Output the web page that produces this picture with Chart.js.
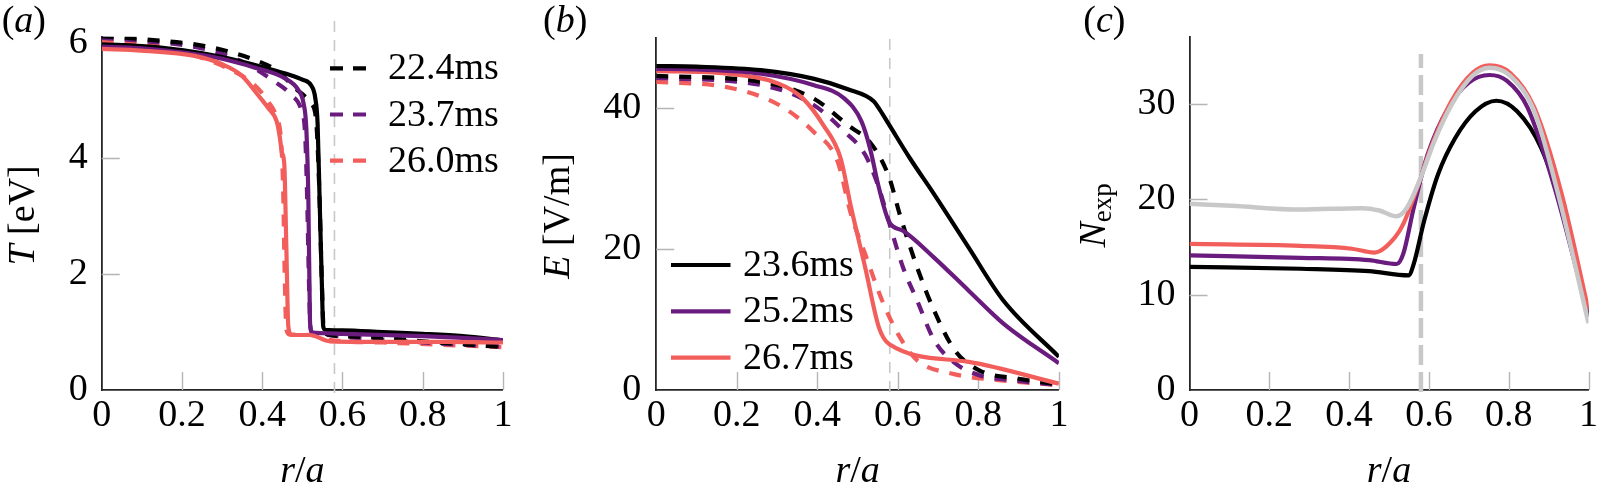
<!DOCTYPE html>
<html>
<head>
<meta charset="utf-8">
<script src="https://cdn.jsdelivr.net/npm/chart.js@4.4.1/dist/chart.umd.min.js"></script>
<style>
  html, body { margin: 0; padding: 0; background: #fff; }
  #wrap { position: relative; width: 1601px; height: 492px; overflow: hidden; }
  #wrap canvas { position: absolute; left: 0; top: 0; }
  #warm { position: absolute; left: 0; top: 600px; font-family: 'Liberation Serif'; font-size: 38px; }
</style>
</head>
<body>
<div id="wrap">
  <canvas id="chart-a" width="1601" height="492"></canvas>
  <canvas id="chart-b" width="1601" height="492"></canvas>
  <canvas id="chart-c" width="1601" height="492"></canvas>
</div>
<div id="warm">0.2 22.4ms [eV] <i>r/a T E N</i></div>
<script>
// ---- data (r/a on x) ----
const xTicks = [0, 0.2, 0.4, 0.6, 0.8, 1];
const rSep = 0.58;   // grey dashed separatrix line

// (a) temperature T [eV]
const aBlackR  = [0, 0.1, 0.2, 0.3, 0.4, 0.46, 0.5, 0.522, 0.532, 0.538, 0.543, 0.548, 0.552, 0.557, 0.6, 0.7, 0.8, 0.9, 1.0];
const aBlackT  = [5.97, 5.94, 5.87, 5.75, 5.58, 5.46, 5.36, 5.26, 5.05, 4.6, 3.3, 2.0, 1.1, 1.04, 1.03, 1.0, 0.97, 0.93, 0.86];
const aPurpR   = [0, 0.1, 0.2, 0.3, 0.38, 0.457, 0.49, 0.503, 0.51, 0.515, 0.519, 0.522, 0.527, 0.56, 0.6, 0.7, 0.8, 0.9, 1.0];
const aPurpT   = [5.93, 5.9, 5.83, 5.72, 5.57, 5.38, 5.18, 4.95, 4.5, 3.3, 1.2, 1.02, 0.99, 0.98, 0.97, 0.95, 0.93, 0.9, 0.86];
const aRedR    = [0, 0.1, 0.232, 0.299, 0.349, 0.39, 0.415, 0.436, 0.444, 0.449, 0.455, 0.46, 0.465, 0.473, 0.519, 0.569, 0.7, 0.85, 1.0];
const aRedT    = [5.89, 5.86, 5.77, 5.63, 5.43, 5.09, 4.87, 4.64, 4.36, 4.1, 3.9, 2.5, 1.1, 0.95, 0.95, 0.84, 0.83, 0.83, 0.82];
const aBlackDR = [0, 0.1, 0.257, 0.374, 0.44, 0.482, 0.51, 0.523, 0.535, 0.542, 0.548, 0.553, 0.558, 0.6, 0.726, 0.8, 0.9, 1.0];
const aBlackDT = [6.11, 6.06, 5.94, 5.72, 5.5, 5.21, 5.05, 4.95, 4.6, 3.5, 2.0, 1.05, 0.97, 0.93, 0.89, 0.84, 0.79, 0.74];
const aPurpDR  = [0, 0.1, 0.25, 0.35, 0.432, 0.473, 0.498, 0.507, 0.512, 0.516, 0.52, 0.525, 0.56, 0.6, 0.7, 0.8, 0.9, 1.0];
const aPurpDT  = [6.08, 6.03, 5.9, 5.67, 5.32, 5.09, 4.81, 4.4, 3.3, 2.0, 1.1, 0.98, 0.95, 0.92, 0.87, 0.82, 0.78, 0.75];
const aRedDR   = [0, 0.1, 0.191, 0.316, 0.382, 0.415, 0.436, 0.447, 0.452, 0.456, 0.46, 0.468, 0.52, 0.57, 0.7, 0.85, 1.0];
const aRedDT   = [6.03, 5.98, 5.86, 5.55, 5.26, 4.98, 4.7, 4.3, 3.5, 2.0, 1.05, 0.96, 0.95, 0.86, 0.82, 0.78, 0.74];

// (b) electric field E [V/m]
const bBlackR  = [0, 0.1, 0.26, 0.39, 0.476, 0.54, 0.555, 0.579, 0.63, 0.69, 0.776, 0.862, 1.0];
const bBlackE  = [46.0, 45.9, 45.4, 44.2, 42.7, 41.0, 39.8, 37.6, 32.9, 27.8, 20.2, 12.7, 4.7];
const bPurpR   = [0, 0.1, 0.26, 0.39, 0.467, 0.51, 0.531, 0.553, 0.579, 0.613, 0.69, 0.776, 0.863, 1.0];
const bPurpE   = [45.6, 45.5, 44.9, 43.3, 41.4, 38.1, 34.3, 28.7, 23.8, 22.6, 18.8, 14.1, 9.4, 3.8];
const bRedR    = [0, 0.175, 0.304, 0.364, 0.415, 0.458, 0.484, 0.519, 0.553, 0.579, 0.776, 1.0];
const bRedE    = [45.3, 44.9, 43.5, 41.4, 37.6, 32.9, 25.9, 17.4, 8.9, 6.5, 4.0, 0.9];
const bBlackDR = [0, 0.26, 0.39, 0.476, 0.536, 0.579, 0.605, 0.648, 0.69, 0.742, 0.802, 0.9, 1.0];
const bBlackDE = [44.6, 43.75, 41.4, 37.6, 34.8, 30.1, 24.9, 17.4, 11.3, 5.6, 2.8, 1.6, 0.8];
const bPurpDR  = [0, 0.26, 0.39, 0.467, 0.519, 0.553, 0.582, 0.613, 0.648, 0.69, 0.742, 0.802, 0.9, 1.0];
const bPurpDE  = [44.3, 43.3, 40.5, 36.7, 33.4, 28.7, 23.1, 17.4, 12.7, 7.1, 3.8, 2.1, 1.3, 0.7];
const bRedDR   = [0, 0.175, 0.304, 0.39, 0.45, 0.484, 0.519, 0.561, 0.605, 0.648, 0.733, 0.85, 1.0];
const bRedDE   = [43.75, 43.0, 40.5, 36.7, 32.5, 24.9, 19.3, 12.7, 7.5, 4.2, 2.35, 1.4, 0.7];

// (c) N_exp
const cBlackR = [0, 0.278, 0.45, 0.549, 0.562, 0.588, 0.623, 0.666, 0.717, 0.769, 0.821, 0.881, 0.941, 1.0];
const cBlackN = [12.9, 12.7, 12.45, 12.0, 13.2, 17.7, 22.6, 26.4, 29.2, 30.3, 29.2, 25.4, 18.1, 8.0];
const cPurpR  = [0, 0.278, 0.45, 0.519, 0.536, 0.562, 0.597, 0.649, 0.7, 0.752, 0.795, 0.847, 0.915, 1.0];
const cPurpN  = [14.1, 13.85, 13.6, 13.2, 14.3, 19.1, 24.7, 29.6, 32.2, 33.0, 32.4, 29.6, 21.2, 7.7];
const cRedR   = [0, 0.278, 0.407, 0.463, 0.515, 0.536, 0.571, 0.605, 0.657, 0.709, 0.752, 0.804, 0.864, 0.933, 1.0];
const cRedN   = [15.3, 15.1, 14.8, 14.4, 16.0, 17.4, 21.2, 25.4, 30.3, 33.2, 34.0, 33.2, 29.6, 20.5, 8.35];
const cGreyR  = [0, 0.106, 0.278, 0.433, 0.476, 0.519, 0.545, 0.58, 0.614, 0.657, 0.709, 0.752, 0.804, 0.864, 0.924, 1.0];
const cGreyN  = [19.5, 19.3, 18.9, 19.05, 18.8, 18.2, 19.1, 22.3, 26.1, 29.9, 32.9, 33.75, 32.9, 29.2, 20.5, 7.0];

const legendA = ['22.4ms', '23.7ms', '26.0ms'];
const legendB = ['23.6ms', '25.2ms', '26.7ms'];

// ---- style ----
const BLACK = '#000000', PURPLE = '#6a1b7e', RED = '#f25e5b', GREY = '#c8c8c8';
const FONT = '"Liberation Serif"';
const F  = '38px ' + FONT;
const FI = 'italic 38px ' + FONT;
const FS = '27px ' + FONT;

const pts = (xs, ys) => xs.map((x, i) => ({ x: x, y: ys[i] }));

function line(label, xs, ys, color, dashed, extra) {
  return Object.assign({
    label: label,
    data: pts(xs, ys),
    borderColor: color,
    borderWidth: 4.2,
    borderDash: dashed ? [12, 11] : [],
    pointRadius: 0,
    fill: false,
    cubicInterpolationMode: 'monotone',
    borderJoinStyle: 'round'
  }, extra || {});
}

function sepLine(y0, y1, width, dash) {
  return {
    label: 'sep',
    data: [{ x: rSep, y: y0 }, { x: rSep, y: y1 }],
    borderColor: GREY,
    borderWidth: width,
    borderDash: dash,
    pointRadius: 0,
    fill: false,
    clip: false
  };
}

// draw a row of text runs with mixed fonts
function drawRuns(ctx, parts, x, y, center) {
  let w = 0;
  parts.forEach(p => { ctx.font = p.f; p.w = ctx.measureText(p.t).width; w += p.w; });
  let cx = center ? x - w / 2 : x;
  parts.forEach(p => { ctx.font = p.f; ctx.fillText(p.t, cx, y + (p.dy || 0)); cx += p.w; });
}

function deco(cfg) {
  return {
    id: 'deco',
    beforeDatasetsDraw(chart) {
      const { ctx, chartArea: a, scales: { x, y } } = chart;
      ctx.save();
      ctx.strokeStyle = '#b5b5b5';
      ctx.lineWidth = 1.4;
      ctx.beginPath();
      x.ticks.forEach(t => {
        if (t.value === 0) return;
        const px = Math.round(x.getPixelForValue(t.value)) + 0.5;
        ctx.moveTo(px, a.bottom); ctx.lineTo(px, a.bottom - 18);
      });
      y.ticks.forEach(t => {
        if (t.value === 0) return;
        const py = Math.round(y.getPixelForValue(t.value)) + 0.5;
        ctx.moveTo(a.left, py); ctx.lineTo(a.left + 18, py);
      });
      ctx.stroke();
      ctx.restore();
    },
    afterDraw(chart) {
      const { ctx, chartArea: a } = chart;
      ctx.save();
      ctx.fillStyle = '#000';
      ctx.textBaseline = 'alphabetic';
      // panel letter
      drawRuns(ctx, [{ t: '(', f: F }, { t: cfg.letter, f: FI }, { t: ')', f: F }], cfg.letterX, 32, false);
      // x title
      drawRuns(ctx, [{ t: 'r', f: FI }, { t: '/', f: F }, { t: 'a', f: FI }], (a.left + a.right) / 2, 482, true);
      // y title (rotated)
      ctx.save();
      ctx.translate(cfg.yTitleX, (a.top + a.bottom) / 2 + 2);
      ctx.rotate(-Math.PI / 2);
      drawRuns(ctx, cfg.yTitle, 0, 0, true);
      ctx.restore();
      // legend
      if (cfg.legend) {
        const L = cfg.legend;
        const items = chart.data.datasets.filter(d => d.legendText);
        items.forEach((d, i) => {
          const yy = L.y + i * L.dy;
          ctx.save();
          ctx.strokeStyle = d.borderColor;
          ctx.lineWidth = 4.2;
          ctx.setLineDash(d.borderDash.length ? [13, 10] : []);
          ctx.beginPath();
          ctx.moveTo(L.x0, yy); ctx.lineTo(L.x1, yy);
          ctx.stroke();
          ctx.restore();
          ctx.font = F;
          ctx.fillText(d.legendText, L.tx, yy + 11);
        });
      }
      ctx.restore();
    }
  };
}

function makeChart(id, box, yMax, yStep, datasets, cfg) {
  return new Chart(document.getElementById(id), {
    type: 'line',
    data: { datasets: datasets },
    options: {
      responsive: false,
      animation: false,
      events: [],
      layout: { padding: { left: 0, top: box.top, right: 1601 - box.right, bottom: 0 } },
      plugins: { legend: { display: false }, tooltip: { enabled: false } },
      scales: {
        x: {
          type: 'linear', min: 0, max: 1,
          afterFit: s => { s.height = 492 - 390; },
          afterBuildTicks: s => { s.ticks = xTicks.map(v => ({ value: v })); },
          grid: { display: false, drawTicks: false },
          border: { display: true, color: '#262626', width: 1.8 },
          ticks: {
            color: '#000', font: { family: FONT, size: 38 }, padding: 3,
            maxRotation: 0, autoSkip: false,
            callback: v => String(Number(v.toFixed(1)))
          }
        },
        y: {
          type: 'linear', min: 0, max: yMax,
          afterFit: s => { s.width = box.left; },
          grid: { display: false, drawTicks: false },
          border: { display: true, color: '#262626', width: 1.8 },
          ticks: {
            color: '#000', font: { family: FONT, size: 38 }, padding: box.tickPad,
            stepSize: yStep, includeBounds: false
          }
        }
      }
    },
    plugins: [deco(cfg)]
  });
}

function drawAll() {
  // (a)
  makeChart('chart-a', { left: 101.7, right: 503, top: 30, tickPad: 14 }, 6.1, 2, [
    line('26.7ms', aRedR, aRedT, RED, false),
    line('25.2ms', aPurpR, aPurpT, PURPLE, false),
    line('23.6ms', aBlackR, aBlackT, BLACK, false),
    line(legendA[0], aBlackDR, aBlackDT, BLACK, true, { legendText: legendA[0] }),
    line(legendA[1], aPurpDR, aPurpDT, PURPLE, true, { legendText: legendA[1] }),
    line(legendA[2], aRedDR, aRedDT, RED, true, { legendText: legendA[2] }),
    sepLine(-0.05, 6.4, 1.6, [11, 8])
  ], {
    letter: 'a', letterX: 1.7, yTitleX: 34,
    yTitle: [{ t: 'T', f: FI }, { t: ' [eV]', f: F }],
    legend: { x0: 330, x1: 367, tx: 388, y: 68.3, dy: 46.2 }
  });

  // (b)
  makeChart('chart-b', { left: 656.2, right: 1058.9, top: 35, tickPad: 15 }, 50, 20, [
    line(legendB[0], bBlackR, bBlackE, BLACK, false, { legendText: legendB[0] }),
    line(legendB[1], bPurpR, bPurpE, PURPLE, false, { legendText: legendB[1] }),
    line(legendB[2], bRedR, bRedE, RED, false, { legendText: legendB[2] }),
    line('22.4ms', bBlackDR, bBlackDE, BLACK, true),
    line('23.7ms', bPurpDR, bPurpDE, PURPLE, true),
    line('26.0ms', bRedDR, bRedDE, RED, true),
    sepLine(-0.3, 50, 1.6, [11, 8])
  ], {
    letter: 'b', letterX: 543, yTitleX: 568.6,
    yTitle: [{ t: 'E', f: FI }, { t: ' [V/m]', f: F }],
    legend: { x0: 671, x1: 730.5, tx: 743, y: 265, dy: 46.3 }
  });

  // (c)
  makeChart('chart-c', { left: 1189.5, right: 1591, top: 35, tickPad: 14 }, 37, 10, [
    line('grey', cGreyR, cGreyN, GREY, false, { borderWidth: 4.5 }),
    line('26.7ms', cRedR, cRedN, RED, false),
    line('25.2ms', cPurpR, cPurpN, PURPLE, false),
    line('23.6ms', cBlackR, cBlackN, BLACK, false),
    sepLine(-0.2, 35.2, 4.5, [20, 7])
  ], {
    letter: 'c', letterX: 1083.3, yTitleX: 1104.7,
    yTitle: [{ t: 'N', f: FI }, { t: 'exp', f: FS, dy: 6 }]
  });
}

// make sure the system serif (normal + italic) is resolved before the canvases draw text
document.fonts.ready.then(() => requestAnimationFrame(drawAll));
</script>
</body>
</html>
